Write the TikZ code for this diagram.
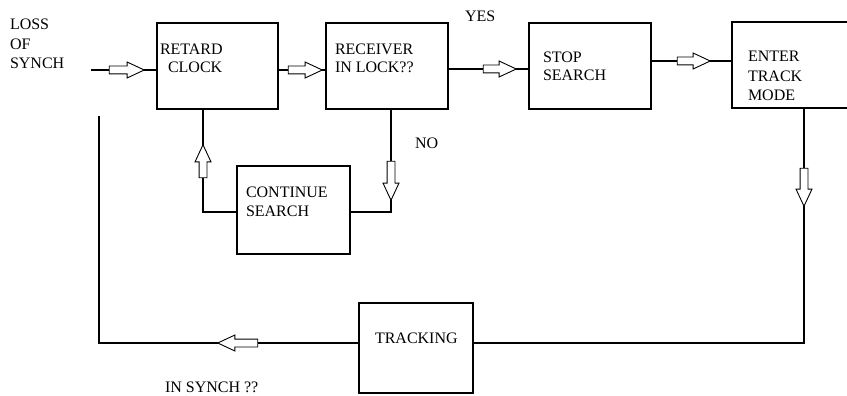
\documentclass[tikz,border=0pt]{standalone}
\usepackage{fontspec}
\setmainfont{Liberation Serif}
\usetikzlibrary{shapes.arrows}
\begin{document}
\begin{tikzpicture}[x=1pt,y=-1pt,
  box/.style={draw,line width=1.1pt,inner sep=0pt,outer sep=0pt},
  lbl/.style={anchor=base west,inner sep=0pt,outer sep=0pt,font=\fontsize{16}{18}\selectfont},
  conn/.style={line width=1.1pt},
  harrow/.style={single arrow,draw,fill=white,line width=0.9pt,inner sep=3.5pt,
    single arrow head extend=4pt,single arrow tip angle=50,minimum height=#1,
    minimum width=0pt,outer sep=0pt},
  harrow/.default=35pt]
\useasboundingbox (0,0) rectangle (847,396);
% boxes
\node[box,minimum width=121pt,minimum height=86pt] (retard) at (217.5,66) {};
\node[box,minimum width=122pt,minimum height=86pt] (receiver) at (387,66) {};
\node[box,minimum width=122pt,minimum height=86pt] (stop) at (590,66) {};
\node[minimum width=115pt,minimum height=86pt,inner sep=0pt,outer sep=0pt] (enter) at (789.5,65) {};
\draw[line width=1.1pt] (enter.north east) -- (enter.north west) -- (enter.south west) -- (enter.south east);
\node[box,minimum width=113pt,minimum height=88pt] (cont) at (293.5,210) {};
\node[box,minimum width=114pt,minimum height=90pt] (tracking) at (416,348) {};
% connectors
\coordinate (in) at (91,70);
\draw[conn] (in) -- (in -| retard.west);
\draw[conn] (retard.east |- in) -- (receiver.west |- in);
\coordinate (yline) at (0,69);
\draw[conn] (receiver.east |- yline) -- (stop.west |- yline);
\coordinate (sline) at (0,61);
\draw[conn] (stop.east |- sline) -- (enter.west |- sline);
\coordinate (c1) at (804,343);
\draw[conn] (enter.south -| c1) -- (c1) -- (tracking.east |- c1);
\coordinate (c2) at (99,343);
\coordinate (ret) at (99,116);
\draw[conn] (tracking.west |- c2) -- (c2) -- (ret);
\coordinate (c3) at (203,212);
\draw[conn] (retard.south -| c3) -- (c3) -- (cont.west |- c3);
\coordinate (c4) at (391,212);
\draw[conn] (cont.east |- c4) -- (c4) -- (receiver.south -| c4);
% hollow arrows
\node[harrow=35pt] (a1) at (122.5,70) {};
\node[harrow=34pt] (a2) at (301,70) {};
\node[harrow=33pt] (a3) at (495.5,69) {};
\node[harrow=33pt] (a4) at (689.5,61) {};
\node[harrow=39pt,rotate=-90] (a5) at (391,176.5) {};
\node[harrow=33pt,rotate=90] (a6) at (203,165.5) {};
\node[harrow=38pt,rotate=-90] (a7) at (804,183) {};
\node[harrow=40pt,rotate=180] (a8) at (242,343) {};
% labels
\node[lbl] (l1) at (10,30) {LOSS};
\node[lbl] (l2) at (10,50) {OF};
\node[lbl] (l3) at (10,69) {SYNCH};
\node[lbl] (r1) at (160,55) {RETARD};
\node[lbl] (r2) at (168,73) {CLOCK};
\node[lbl] (q1) at (335,55) {RECEIVER};
\node[lbl] (q2) at (335,73) {IN LOCK??};
\node[lbl] (yes) at (465,22) {YES};
\node[lbl] (s1) at (543,63) {STOP};
\node[lbl] (s2) at (543,81) {SEARCH};
\node[lbl] (e1) at (748,62) {ENTER};
\node[lbl] (e2) at (748,82) {TRACK};
\node[lbl] (e3) at (748,101) {MODE};
\node[lbl] (no) at (415,148) {NO};
\node[lbl] (ct1) at (246,197) {CONTINUE};
\node[lbl] (ct2) at (246,216) {SEARCH};
\node[lbl] (trk) at (375,343) {TRACKING};
\node[lbl] (ins) at (165,392) {IN SYNCH ??};
\end{tikzpicture}
\end{document}
